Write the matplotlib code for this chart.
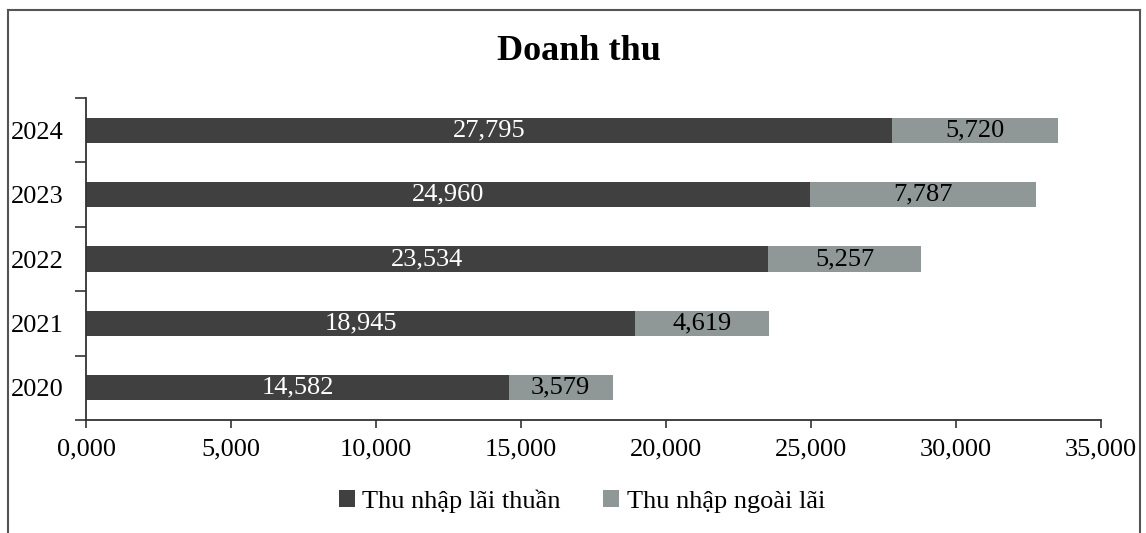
import matplotlib
matplotlib.use("Agg")
import matplotlib.pyplot as plt
from matplotlib.lines import Line2D

years = ["2020", "2021", "2022", "2023", "2024"]
lai_thuan = [14582, 18945, 23534, 24960, 27795]
ngoai_lai = [3579, 4619, 5257, 7787, 5720]
x_ticks = [0, 5000, 10000, 15000, 20000, 25000, 30000, 35000]
x_tick_labels = ["0,000", "5,000", "10,000", "15,000", "20,000", "25,000", "30,000", "35,000"]

plt.rcParams['font.family'] = ['Liberation Serif', 'DejaVu Serif']

W, H = 1146, 533
fig = plt.figure(figsize=(W / 100, H / 100), dpi=100)
ax = fig.add_axes([86 / W, 1 - 420 / H, (1101 - 86) / W, (420 - 98) / H])

dark = "#404040"
light = "#8f9896"
pos = list(range(len(years)))
b1 = ax.barh(pos, lai_thuan, height=0.39, color=dark, label="Thu nhập lãi thuần")
b2 = ax.barh(pos, ngoai_lai, left=lai_thuan, height=0.39, color=light, label="Thu nhập ngoài lãi")

for p, v in zip(pos, lai_thuan):
    ax.text(v / 2, p, f"{v:,}", ha="center", va="center", color="white", fontsize=19)
for p, l, v in zip(pos, lai_thuan, ngoai_lai):
    ax.text(l + v / 2, p, f"{v:,}", ha="center", va="center", color="black", fontsize=19)

ax.set_xlim(0, 35000)
ax.set_ylim(-0.5, len(years) - 0.5)
ax.set_xticks(x_ticks)
ax.set_xticklabels(x_tick_labels, fontsize=19)
ax.set_yticks(pos)
ax.set_yticklabels(years, fontsize=19)
ax.tick_params(axis="y", length=0, pad=16)
ax.set_yticks([p - 0.5 for p in pos] + [len(years) - 0.5], minor=True)
ax.tick_params(axis="y", which="minor", length=8, width=1.2, direction="out", color="#333333")
ax.tick_params(axis="x", length=6, width=1.2, direction="out", pad=7, color="#333333")
for s in ["top", "right"]:
    ax.spines[s].set_visible(False)
for s in ["left", "bottom"]:
    ax.spines[s].set_linewidth(1.3)
    ax.spines[s].set_color("#333333")

fig.text(579 / W, 1 - 52 / H, "Doanh thu", ha="center", va="center",
         fontsize=26, fontweight="bold")

fig.legend(handles=[b1, b2], loc="center", bbox_to_anchor=(582 / W, 1 - 501 / H),
           ncol=2, frameon=False, fontsize=19, handlelength=0.6, handleheight=0.6,
           handletextpad=0.3, columnspacing=1.6)

# chart border
bc = "#555555"
fig.add_artist(Line2D([8 / W, 8 / W], [0, 1 - 10 / H], transform=fig.transFigure, color=bc, lw=1.5))
fig.add_artist(Line2D([8 / W, 1140 / W], [1 - 10 / H, 1 - 10 / H], transform=fig.transFigure, color=bc, lw=1.5))
fig.add_artist(Line2D([1140 / W, 1140 / W], [0, 1 - 10 / H], transform=fig.transFigure, color=bc, lw=1.5))

fig.savefig("out.png", dpi=100)
